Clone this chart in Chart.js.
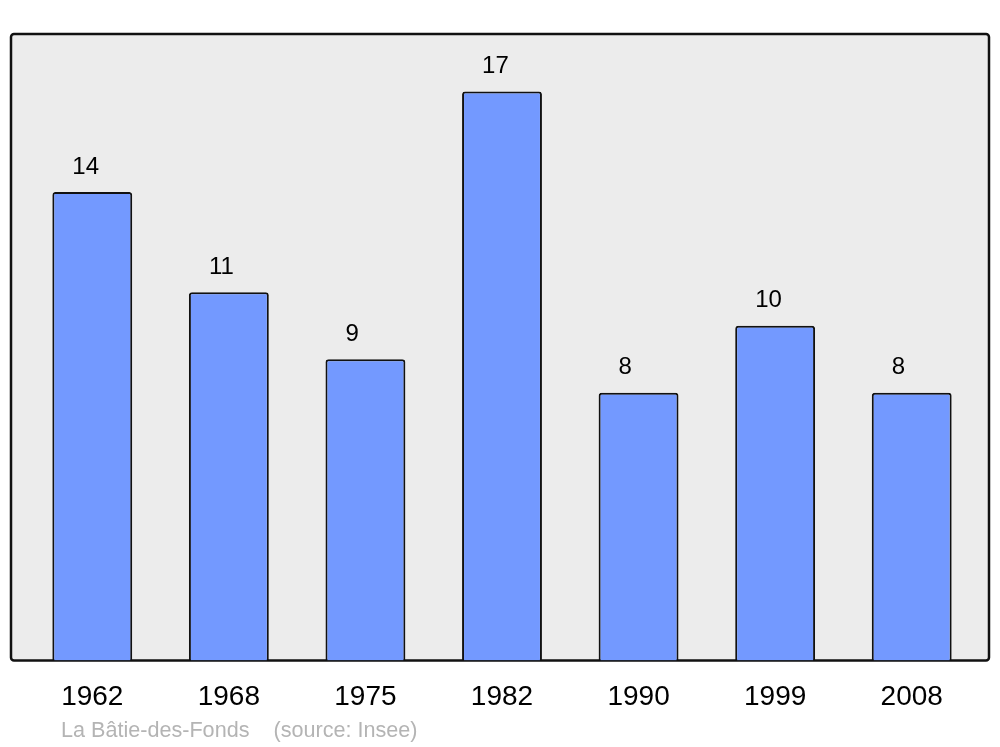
<!DOCTYPE html>
<html>
<head>
<meta charset="utf-8">
<script src="https://cdn.jsdelivr.net/npm/chart.js@4"></script>
<style>
  html, body { margin: 0; padding: 0; background: #fff; }
  #wrap { width: 1000px; height: 747px; }
</style>
</head>
<body>
<div id="wrap"><canvas id="barChart" width="1000" height="747"></canvas></div>
<script>
// population by census year
const years = ['1962', '1968', '1975', '1982', '1990', '1999', '2008']
const population = [14, 11, 9, 17, 8, 10, 8]
const sourceText = 'La Bâtie-des-Fonds    (source: Insee)'

const FONT = '"Liberation Sans", Arial, sans-serif'

// grey frame behind the bars
const framePlugin = {
  id: 'frame',
  beforeDraw: (chart) => {
    const { ctx, chartArea } = chart
    ctx.save()
    ctx.fillStyle = '#ececec'
    ctx.strokeStyle = '#111'
    ctx.lineWidth = 2.5
    ctx.beginPath()
    ctx.roundRect(11, chartArea.top, 978, chartArea.bottom - chartArea.top, 3)
    ctx.fill()
    ctx.stroke()
    ctx.restore()
  },
}

// value labels above bars + source line
const labelPlugin = {
  id: 'labels',
  afterDatasetsDraw: (chart) => {
    const { ctx } = chart
    const meta = chart.getDatasetMeta(0)
    ctx.save()
    ctx.font = '24px ' + FONT
    ctx.fillStyle = '#000'
    ctx.textAlign = 'left'
    ctx.textBaseline = 'middle'
    meta.data.forEach((bar, i) => {
      ctx.fillText(String(population[i]), bar.x - bar.width / 2 + 20, bar.y - 25)
    })
    ctx.font = '21.6px ' + FONT
    ctx.fillStyle = '#b4b4b4'
    ctx.textBaseline = 'alphabetic'
    ctx.fillText(sourceText, 61, 737)
    ctx.restore()
  },
}

const createChart = () => {
  const canvas = document.getElementById('barChart')
  new Chart(canvas, {
    type: 'bar',
    data: {
      labels: years,
      datasets: [
        {
          data: population,
          backgroundColor: '#7399ff',
          borderColor: '#111',
          borderWidth: 2,
          borderRadius: 3,
          barPercentage: 0.585,
          categoryPercentage: 1,
        },
      ],
    },
    options: {
      responsive: false,
      animation: false,
      layout: {
        padding: { left: 24, right: 20, top: 34, bottom: 21 },
      },
      scales: {
        x: {
          grid: { display: false },
          border: { display: false },
          ticks: {
            color: '#000',
            padding: 12,
            font: { family: FONT, size: 28 },
          },
        },
        y: {
          display: false,
          min: 0,
          max: 18.72,
        },
      },
      plugins: {
        legend: { display: false },
        tooltip: { enabled: false },
      },
    },
    plugins: [framePlugin, labelPlugin],
  })
}

createChart()
</script>
</body>
</html>
